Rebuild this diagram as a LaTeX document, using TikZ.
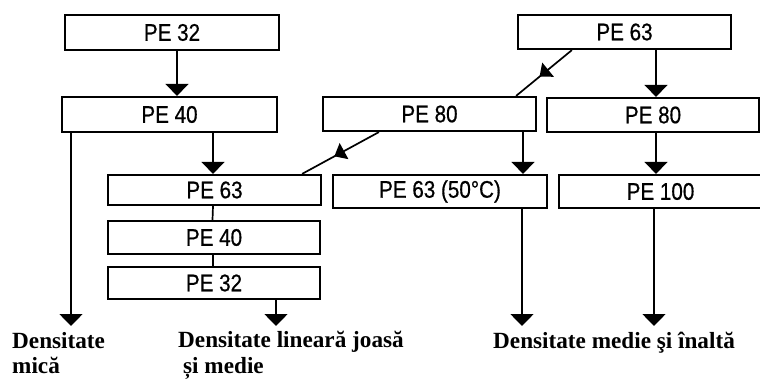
\documentclass[tikz,border=0pt]{standalone}
\usepackage{fontspec}
\setmainfont{Liberation Serif}
\setsansfont[FakeStretch=0.86,FakeBold=0.6]{Liberation Sans}
\usetikzlibrary{arrows.meta,decorations.markings}
\tikzset{
  box/.style={draw, line width=2.2pt, inner sep=0pt, font=\sffamily\fontsize{24}{26}\selectfont},
  conn/.style={line width=1.7pt},
  arr/.style={line width=1.7pt, -{Triangle[width=23pt,length=12pt]}},
  midarr/.style={line width=1.7pt, postaction={decorate},
    decoration={markings, mark=at position 0.58 with {\arrow{Triangle[width=18pt,length=11pt]}}}},
  lbl/.style={font=\bfseries\fontsize{23.2}{25}\selectfont, inner sep=0pt, anchor=base west}
}
\begin{document}
\begin{tikzpicture}[x=1pt,y=-1pt]
\useasboundingbox (0,0) rectangle (760,379);
% left column
\node[box, minimum width=214pt, minimum height=35pt] (a32) at (172,32.5) {PE 32};
\node[box, minimum width=215pt, minimum height=35pt] (a40) at (169.5,114.5) {PE 40};
\node[box, minimum width=213pt, minimum height=30pt] (l63) at (214.5,190) {PE 63};
\node[box, minimum width=212pt, minimum height=33pt] (l40) at (214,237.5) {PE 40};
\node[box, minimum width=212pt, minimum height=32pt] (l32) at (214,283) {PE 32};
% right part
\node[box, minimum width=213pt, minimum height=34pt] (t63) at (624.5,32) {PE 63};
\node[box, minimum width=213pt, minimum height=34pt] (m80) at (429.5,114) {PE 80};
\node[box, minimum width=212pt, minimum height=34pt] (r80) at (653,115) {PE 80};
\node[box, minimum width=214pt, minimum height=33pt] (m63) at (440,191.5) {PE 63 (50\textdegree C)};
\node[box, minimum width=203pt, minimum height=33pt] (r100) at (660.5,191.5) {PE 100};
% end coordinates
\coordinate (e1) at (71,326);
\coordinate (e2) at (276,326);
\coordinate (e3) at (522,326);
\coordinate (e4) at (654,326);
% connectors
\draw[arr] ([xshift=5pt]a32.south) -- ([xshift=5pt]a32.south |- a40.north);
\draw[arr] ([xshift=43.5pt]a40.south) -- ([xshift=43.5pt]a40.south |- l63.north);
\draw[arr] (a40.south -| e1) -- (e1);
\draw[conn] ([xshift=-1.5pt]l63.south) -- ([xshift=-1.5pt]l40.north);
\draw[conn] ([xshift=-1pt]l40.south) -- ([xshift=-1pt]l32.north);
\draw[arr] (l32.south -| e2) -- (e2);
\draw[arr] ([xshift=31.5pt]t63.south) -- ([xshift=31.5pt]t63.south |- r80.north);
\draw[arr] ([xshift=3pt]r80.south) -- ([xshift=3pt]r80.south |- r100.north);
\draw[arr] ([xshift=93.5pt]m80.south) -- ([xshift=93.5pt]m80.south |- m63.north);
\draw[arr] (m63.south -| e3) -- (e3);
\draw[arr] (r100.south -| e4) -- (e4);
\draw[midarr] ([xshift=55pt]t63.south west) -- ([xshift=-21pt]m80.north east);
\draw[midarr] ([xshift=57pt]m80.south west) -- ([xshift=-20pt]l63.north east);
% labels
\node[lbl] (d1) at (12,348) {Densitate};
\node[lbl] (d1b) at (12,373) {mică};
\node[lbl] (d2) at (178,347) {Densitate lineară joasă};
\node[lbl] (d2b) at (183,373) {și medie};
\node[lbl] (d3) at (493,348) {Densitate medie şi înaltă};
\end{tikzpicture}
\end{document}
